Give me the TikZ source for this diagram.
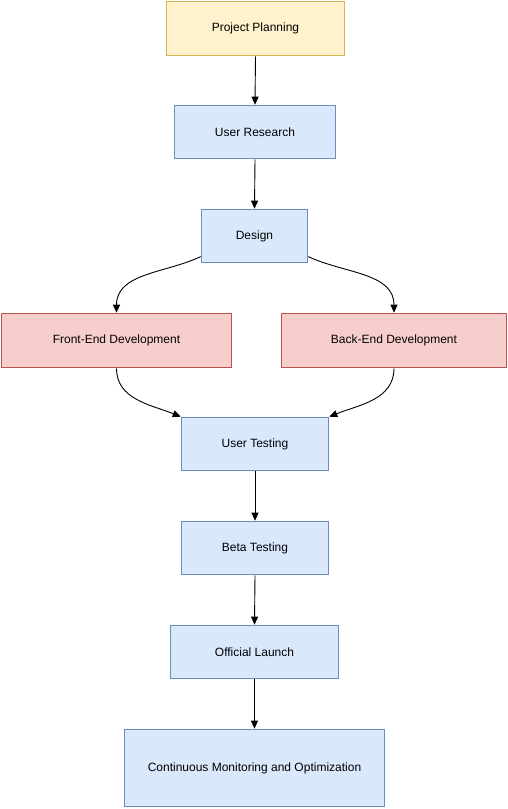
\documentclass[tikz,border=0pt]{standalone}
\usepackage{fontspec}
\setmainfont{Liberation Sans}
\usetikzlibrary{arrows.meta}
\definecolor{yfill}{HTML}{FFF2CC}
\definecolor{ydraw}{HTML}{D6B656}
\definecolor{bfill}{HTML}{DAE8FC}
\definecolor{bdraw}{HTML}{6C8EBF}
\definecolor{rfill}{HTML}{F8CECC}
\definecolor{rdraw}{HTML}{B85450}
\begin{document}
\begin{tikzpicture}[x=1pt,y=1pt,
  box/.style={draw, line width=1.6pt, inner sep=0pt, font=\fontsize{12}{14}\selectfont},
  ybox/.style={box, fill=yfill, draw=ydraw},
  bbox/.style={box, fill=bfill, draw=bdraw},
  rbox/.style={box, fill=rfill, draw=rdraw},
  conn/.style={line width=0.9pt, -{Triangle[length=8pt,width=7pt]}}]
\useasboundingbox (0,0) rectangle (508,809);
\node[ybox, minimum width=178pt, minimum height=54pt] (pp) at (255.5,780.5) {Project Planning};
\node[bbox, minimum width=161pt, minimum height=53pt] (ur) at (255,677) {User Research};
\node[bbox, minimum width=106pt, minimum height=53pt] (des) at (254.5,573) {Design};
\node[rbox, minimum width=230pt, minimum height=54pt] (fe) at (116.5,468.5) {Front-End Development};
\node[rbox, minimum width=225pt, minimum height=54pt] (be) at (394,468.5) {Back-End Development};
\node[bbox, minimum width=147pt, minimum height=53pt] (ut) at (255,365) {User Testing};
\node[bbox, minimum width=147pt, minimum height=53pt] (bt) at (255,261) {Beta Testing};
\node[bbox, minimum width=168pt, minimum height=53pt] (ol) at (254.5,157) {Official Launch};
\node[bbox, minimum width=260pt, minimum height=77pt] (cm) at (254.5,41) {Continuous Monitoring and Optimization};
\draw[conn] (pp.south) -- (ur.north);
\draw[conn] (ur.south) -- (des.north);
\draw[conn] (des.201) to[out=205,in=90] (fe.north);
\draw[conn] (des.339) to[out=-25,in=90] (be.north);
\draw[conn] (fe.south) to[out=-90,in=158] (ut.north west);
\draw[conn] (be.south) to[out=-90,in=22] (ut.north east);
\draw[conn] (ut.south) -- (bt.north);
\draw[conn] (bt.south) -- (ol.north);
\draw[conn] (ol.south) -- (cm.north);
\end{tikzpicture}
\end{document}
